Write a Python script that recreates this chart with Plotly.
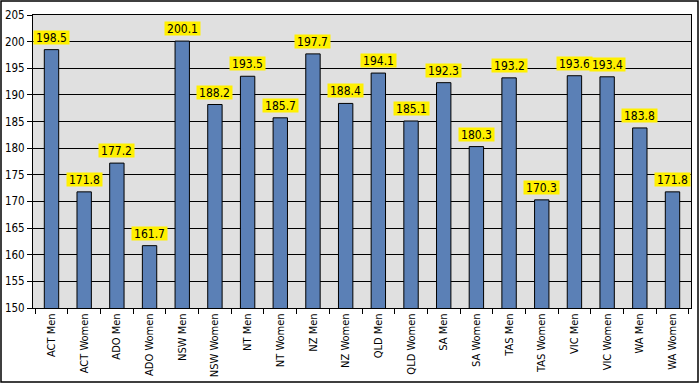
import plotly.graph_objects as go

categories = ["ACT Men", "ACT Women", "ADO Men", "ADO Women", "NSW Men", "NSW Women",
              "NT Men", "NT Women", "NZ Men", "NZ Women", "QLD Men", "QLD Women",
              "SA Men", "SA Women", "TAS Men", "TAS Women", "VIC Men", "VIC Women",
              "WA Men", "WA Women"]
values = [198.5, 171.8, 177.2, 161.7, 200.1, 188.2, 193.5, 185.7, 197.7, 188.4,
          194.1, 185.1, 192.3, 180.3, 193.2, 170.3, 193.6, 193.4, 183.8, 171.8]
y_ticks = list(range(150, 206, 5))

FONT = "DejaVu Sans Condensed, DejaVu Sans"
W, H = 700, 384
ml, mr, mt, mb = 33, 9, 15, 76
pw, ph = W - ml - mr, H - mt - mb

fig = go.Figure(go.Bar(
    x=categories, y=values, width=0.44,
    marker=dict(color="#5B80B6", line=dict(color="black", width=1)),
    hoverinfo="x+y",
))

for c, v in zip(categories, values):
    fig.add_annotation(x=c, y=v, text=f"{v:.1f}", showarrow=False, yanchor="bottom",
                       yshift=5, bgcolor="#FFF000", borderpad=0, width=35, height=13,
                       font=dict(family=FONT, size=12, color="black"))

fig.add_shape(type="rect", xref="paper", yref="paper",
              x0=(1 - ml) / pw, x1=(W - 2 - ml) / pw,
              y0=(mt + ph - (H - 2)) / ph, y1=(mt + ph - 1) / ph,
              line=dict(color="black", width=1.5), layer="below")

fig.update_layout(
    width=W, height=H, margin=dict(l=ml, r=mr, t=mt, b=mb, autoexpand=False),
    paper_bgcolor="white", plot_bgcolor="#E0E0E0", showlegend=False,
    font=dict(family=FONT, size=11, color="black"),
    xaxis=dict(tickangle=-90, tickson="boundaries", ticks="outside", ticklen=5,
               tickcolor="black", showline=True, linecolor="black", mirror=True,
               showgrid=False, automargin=False, tickfont=dict(family=FONT, size=11)),
    yaxis=dict(range=[150, 205], tickvals=y_ticks, ticks="outside", ticklen=5,
               tickcolor="black", showline=True, linecolor="black", mirror=True,
               showgrid=True, gridcolor="black", gridwidth=1, zeroline=False,
               automargin=False, tickfont=dict(family=FONT, size=11.5)),
)

fig.write_html("out.html", config={"displayModeBar": False},
               post_script="document.body.style.margin='0';document.body.style.overflow='hidden';")
